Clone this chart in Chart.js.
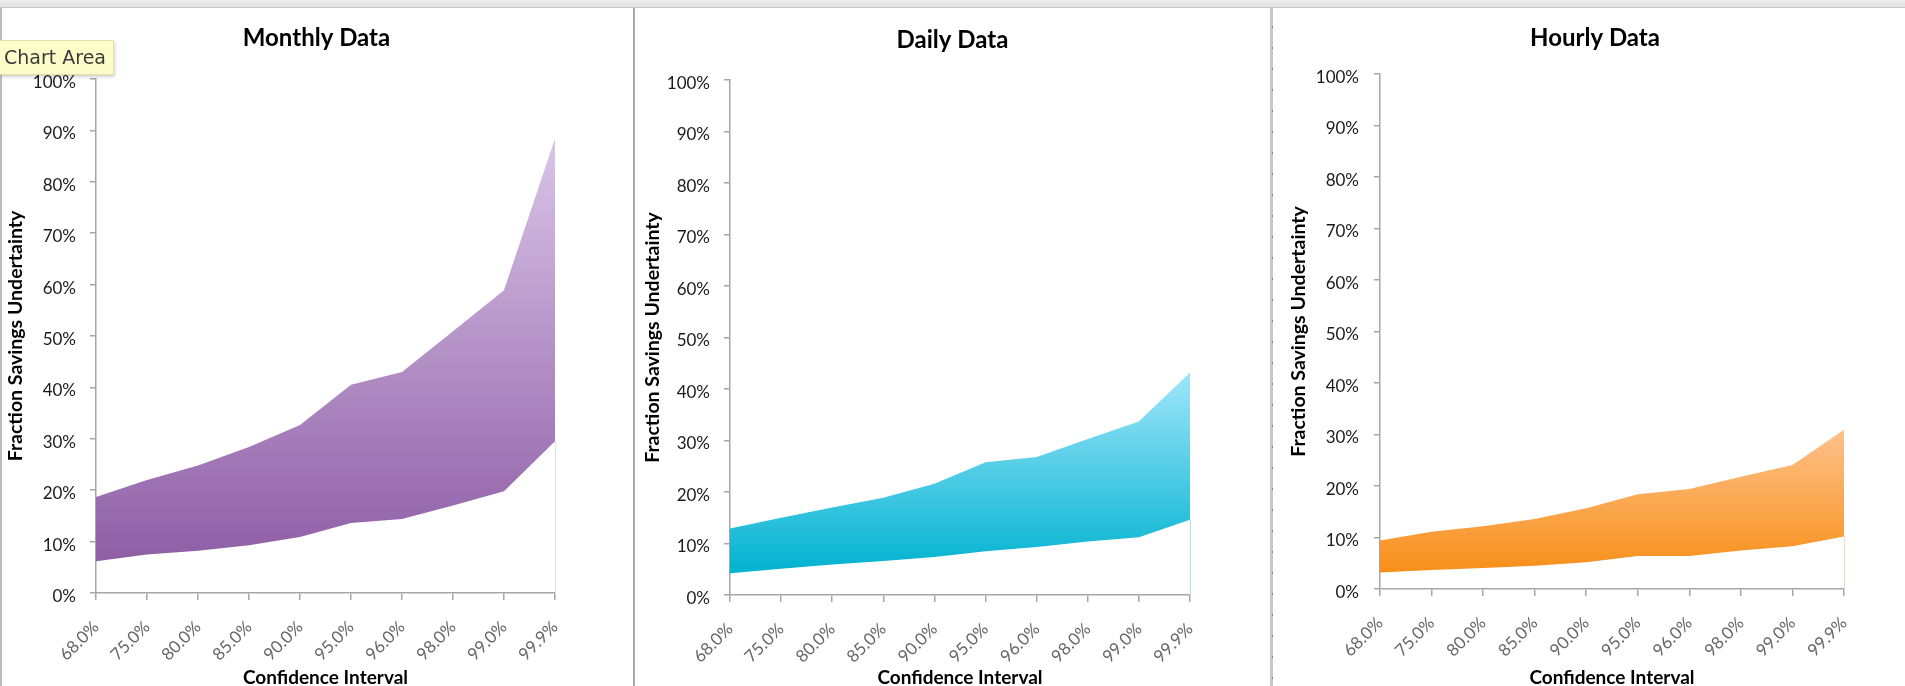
<!DOCTYPE html>
<html>
<head>
<meta charset="utf-8">
<title>Fraction Savings Uncertainty by Confidence Interval</title>
<script src="https://cdn.jsdelivr.net/npm/chart.js@4.4.1/dist/chart.umd.min.js"></script>
<style>
  html, body { margin: 0; padding: 0; width: 1905px; height: 686px; overflow: hidden; background: #fff; }
  canvas { position: absolute; top: 0; }
  .topbar { position: absolute; left: 0; top: 0; width: 1905px; height: 7px;
            background: linear-gradient(#eeeeee, #e0e0e0); border-bottom: 1px solid #c6c6c6; z-index: 5; }
  .sep { position: absolute; top: 7px; height: 679px; z-index: 4; }
  .sep-left  { left: 0; width: 2px; background: #bcbcbc; }
  .sep-mid   { left: 633px; width: 2px; background: #a9a9a9; }
  .sep-right { left: 1270px; width: 3px; background: #c8c8c8; }
  .sep-dots  { left: 1272px; width: 1px; background: repeating-linear-gradient(#c8c8c8 0 19px, #a07a58 19px 21px); }
  .chip { position: absolute; left: 0; top: 40px; width: 114px; height: 35px; z-index: 6;
          background: #fdfdc9; border: 1px solid #e2e2a8; border-left: none; box-sizing: border-box;
          box-shadow: 1px 2px 3px rgba(0,0,0,0.18);
          font-family: "DejaVu Sans", sans-serif; font-size: 19px; color: #3a3a3a;
          line-height: 33px; padding-left: 4px; white-space: nowrap; }
</style>
</head>
<body>
<div class="topbar"></div>
<div class="sep sep-left"></div>
<div class="sep sep-mid"></div>
<div class="sep sep-right"></div>
<div class="sep sep-dots"></div>
<div class="chip">Chart Area</div>

<canvas id="monthly" width="633" height="700" style="left:0px"></canvas>
<canvas id="daily" width="635" height="700" style="left:635px"></canvas>
<canvas id="hourly" width="642" height="700" style="left:1274px"></canvas>

<script>
// Confidence levels along the x axis
const categories = ['68.0%', '75.0%', '80.0%', '85.0%', '90.0%', '95.0%', '96.0%', '98.0%', '99.0%', '99.9%'];

// Fraction savings uncertainty (%), lower and upper edge of each band
const monthlyLower = [6.2, 7.5, 8.2, 9.3, 10.9, 13.6, 14.4, 17.0, 19.8, 29.5];
const monthlyUpper = [18.7, 22.0, 24.8, 28.4, 32.7, 40.5, 43.0, 50.9, 58.9, 88.4];

const dailyLower = [4.2, 5.1, 5.9, 6.6, 7.4, 8.5, 9.3, 10.4, 11.2, 14.6];
const dailyUpper = [12.9, 15.0, 17.0, 18.9, 21.6, 25.8, 26.8, 30.3, 33.7, 43.2];

const hourlyLower = [3.2, 3.7, 4.1, 4.5, 5.2, 6.4, 6.4, 7.5, 8.3, 10.2];
const hourlyUpper = [9.4, 11.1, 12.2, 13.6, 15.7, 18.4, 19.4, 21.8, 24.1, 30.9];

// Y axis range and step (percent)
const yMin = 0;
const yMax = 100;
const yStep = 10;

const xTitle = 'Confidence Interval';
const yTitle = 'Fraction Savings Undertainty';

Chart.defaults.font.family = 'Lato, "DejaVu Sans", sans-serif';

// Thin light rule at the last category, from the axis up to the band's lower edge
const edgeLine = {
  id: 'edgeLine',
  afterDatasetsDraw(chart, args, opts) {
    const { ctx, scales: { x, y } } = chart;
    const last = chart.data.labels.length - 1;
    const px = Math.round(x.getPixelForValue(last)) + 0.5;
    const lowVal = chart.data.datasets[0].data[last];
    ctx.save();
    ctx.strokeStyle = opts.color;
    ctx.lineWidth = 1;
    ctx.beginPath();
    ctx.moveTo(px, y.getPixelForValue(yMin));
    ctx.lineTo(px, y.getPixelForValue(lowVal));
    ctx.stroke();
    ctx.restore();
  }
};

// Vertical gradient spanning the band from its highest to its lowest value
function bandFill(lower, upper, topColor, bottomColor) {
  return (context) => {
    const { ctx, chartArea, scales } = context.chart;
    if (!chartArea) return bottomColor;
    const yTop = scales.y.getPixelForValue(Math.max(...upper));
    const yBot = scales.y.getPixelForValue(Math.min(...lower));
    const g = ctx.createLinearGradient(0, yTop, 0, yBot);
    g.addColorStop(0, topColor);
    g.addColorStop(1, bottomColor);
    return g;
  };
}

function drawBand(id, title, lower, upper, look) {
  const canvas = document.getElementById(id);
  const W = canvas.width, H = canvas.height;
  const axisGrey = '#a6a6a6';
  return new Chart(canvas, {
    type: 'line',
    data: {
      labels: categories,
      datasets: [
        { data: lower, borderColor: 'rgba(0,0,0,0)', borderWidth: 0, pointRadius: 0, fill: false, tension: 0 },
        { data: upper, borderColor: 'rgba(0,0,0,0)', borderWidth: 0, pointRadius: 0, tension: 0,
          fill: '-1', backgroundColor: bandFill(lower, upper, look.top, look.bottom) }
      ]
    },
    plugins: [edgeLine],
    options: {
      responsive: false,
      maintainAspectRatio: false,
      animation: false,
      devicePixelRatio: 1,
      events: [],
      layout: { padding: 0 },
      plugins: {
        legend: { display: false },
        tooltip: { enabled: false },
        edgeLine: { color: look.edge },
        title: {
          display: true, text: title, color: '#000',
          font: { size: 24, weight: 'bold' },
          padding: { top: look.titleY - 14.4, bottom: look.plotTop - look.titleY - 14.4 }
        }
      },
      scales: {
        x: {
          offset: false,
          grid: { drawOnChartArea: false, drawTicks: true, tickLength: 7, color: axisGrey, lineWidth: 1.5 },
          border: { display: true, color: axisGrey, width: 1.5 },
          ticks: { autoSkip: false, minRotation: 45, maxRotation: 45, padding: 17, color: '#666', font: { size: 17 } },
          title: { display: true, text: xTitle, color: '#000', font: { size: 19, weight: 'bold' },
                   padding: { top: 0, bottom: H - look.xTitleY - 11.4 } },
          afterFit(scale) { scale.height = H - look.plotBottom; }
        },
        y: {
          min: yMin, max: yMax,
          grid: { drawOnChartArea: false, drawTicks: true, tickLength: 6, color: axisGrey, lineWidth: 1.5 },
          border: { display: true, color: axisGrey, width: 1.5 },
          ticks: { stepSize: yStep, padding: look.tickPad, labelOffset: 3.5, color: '#1a1a1a', font: { size: 17 },
                   callback: (v) => v + '%' },
          title: { display: true, text: yTitle, color: '#000', font: { size: 19.5, weight: 'bold' },
                   padding: { top: look.yTitleX - 11.7, bottom: 0 } },
          afterFit(scale) { scale.width = look.left; }
        },
        // empty right-hand strip that leaves the margin beside the plot
        margin: {
          type: 'linear', position: 'right', display: true,
          grid: { display: false }, border: { display: false }, ticks: { display: false },
          afterFit(scale) { scale.width = W - look.right; }
        }
      }
    }
  });
}

function build() {
  drawBand('monthly', 'Monthly Data', monthlyLower, monthlyUpper, {
    left: 96, right: 555, plotTop: 79, plotBottom: 593, titleY: 38.6, xTitleY: 678, yTitleX: 16, tickPad: 14,
    top: '#d9c5e8', bottom: '#8f5ea6', edge: '#eadff1'
  });
  drawBand('daily', 'Daily Data', dailyLower, dailyUpper, {
    left: 95, right: 555, plotTop: 80, plotBottom: 595, titleY: 40.6, xTitleY: 678, yTitleX: 18, tickPad: 14,
    top: '#a0e6fa', bottom: '#00b2d0', edge: '#ade2ef'
  });
  drawBand('hourly', 'Hourly Data', hourlyLower, hourlyUpper, {
    left: 106, right: 570, plotTop: 74, plotBottom: 589, titleY: 38.6, xTitleY: 678, yTitleX: 25, tickPad: 15,
    top: '#fec18c', bottom: '#f78f18', edge: '#fcdcc1'
  });
}

Promise.all([
  document.fonts.load('17px Lato'),
  document.fonts.load('bold 24px Lato')
]).then(build, build);
</script>
</body>
</html>
